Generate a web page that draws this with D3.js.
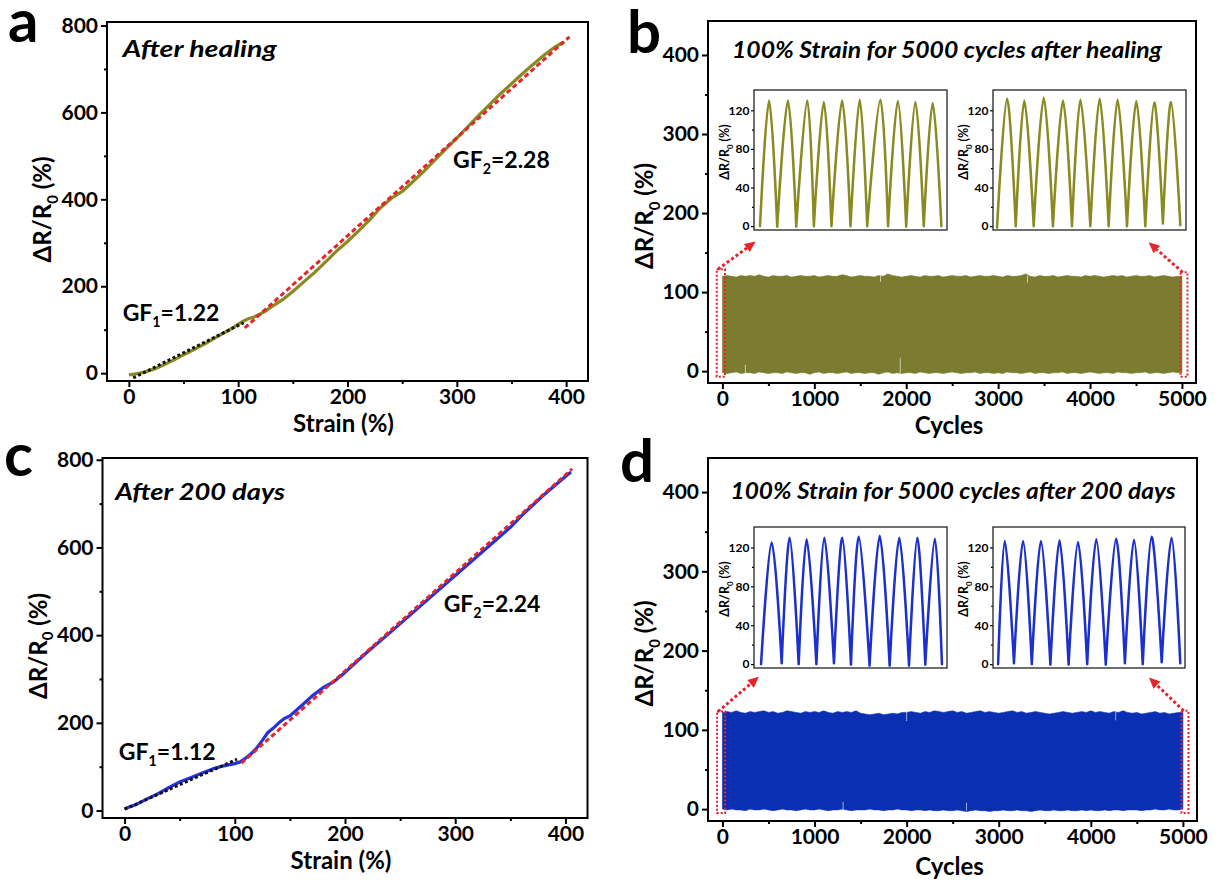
<!DOCTYPE html>
<html>
<head>
<meta charset="utf-8">
<script src="https://cdn.jsdelivr.net/npm/d3@7"></script>
<style>
  body { margin: 0; background: #fff; }
  svg text { font-family: Lato, "Open Sans", sans-serif; font-weight: 700; fill: #000; }
</style>
</head>
<body>
<svg id="fig" width="1220" height="886"></svg>
<script>
// ---------- strain response after healing (panel a) ----------
const healStrain = [0,5,10,15,20,25,30,40,50,60,70,80,90,95,100,105,110,115,120,125,130,140,150,160,170,180,190,200,210,220,230,240,250,260,270,280,290,300,310,320,330,340,350,360,370,380,390,395,398];
const healValue  = [-4,-2,0,3,7,11,17,29,42,55,68,83,97,104,113,120,126,130,136,143,152,168,188,210,232,256,281,303,327,352,380,402,418,441,465,491,516,541,567,593,618,643,666,689,711,732,751,758,762];
const healFit1Strain = [4, 105];   const healFit1Value = [-11, 116];
const healFit2Strain = [106, 403]; const healFit2Value = [104, 774];

// ---------- strain response after 200 days (panel c) ----------
const agedStrain = [0,10,20,30,40,50,60,70,80,90,100,105,110,115,120,125,130,135,140,145,150,160,170,180,190,200,220,240,260,280,300,320,340,350,360,380,400,405];
const agedValue  = [4,13,26,38,52,65,75,85,95,102,107,111,120,130,143,160,178,188,200,210,216,238,261,280,294,315,361,404,448,492,536,580,624,646,672,719,762,772];
const agedFit1Strain = [0, 102];   const agedFit1Value = [3, 117];
const agedFit2Strain = [106, 406]; const agedFit2Value = [108, 779];

// ---------- 5000-cycle envelopes (peak / valley every 50 cycles) ----------
const cycleGrid = d3.range(0, 5001, 50);
const healPeakEnv = [
  120,121,120,119,121,120,121,120,122,120, 119,121,120,120,121,119,120,121,120,120,
  121,119,120,121,120,120,122,121,119,120, 121,120,120,119,121,120,123,121,120,119,
  120,121,120,119,121,120,120,121,119,120, 121,120,120,121,119,120,121,120,120,121,
  120,119,121,120,120,121,123,120,119,121, 120,120,121,119,120,121,120,120,119,121,
  120,121,120,119,120,121,120,121,119,120, 121,120,120,121,119,120,121,120,119,120, 120];
const healTroughEnv = [
  -2,-3,-2,-1,-3,-2,-2,-3,-1,-2, -3,-2,-2,-3,-1,-2,-3,-2,-2,-4,
  -2,-1,-3,-2,-2,-3,-2,-1,-3,-2, -2,-3,-2,-2,-4,-2,-1,-3,-2,-3,
  -2,-2,-3,-1,-2,-3,-2,-2,-3,-2, -1,-2,-3,-2,-2,-1,-3,-2,-2,-3,
  -2,-3,-1,-2,-2,-3,-2,-1,-3,-2, -2,-3,-2,-2,-1,-3,-2,-2,-3,-2,
  -1,-2,-3,-2,-2,-3,-1,-2,-2,-3, -2,-2,-1,-3,-2,-2,-3,-2,-1,-2, -2];
const agedPeakEnv = [
  122,123,122,124,122,121,123,122,123,124, 122,123,121,122,124,123,122,121,123,122,
  123,122,124,122,121,123,122,123,122,124, 121,120,119,120,121,119,120,121,120,122,
  122,123,122,121,123,122,124,123,122,123, 124,122,123,121,122,123,124,122,123,122,
  121,122,123,124,122,123,121,122,123,122, 121,120,121,122,123,122,121,122,123,122,
  124,122,123,122,121,123,122,124,122,121, 122,120,121,122,123,121,122,120,121,122, 122];
const agedTroughEnv = [
  0,-1,0,-1,-1,-2,0,-1,-1,0, -1,-2,-1,0,-1,-1,-2,-1,0,-1,
  -1,0,-1,-2,-1,-1,0,-1,-2,-1, -1,-1,0,-1,-1,-2,-1,-1,0,-1,
  -1,-2,-1,-1,-2,-1,-2,-2,-1,-2, -2,-1,-2,-3,-2,-1,-2,-2,-3,-2,
  -2,-1,-2,-2,-1,-2,-2,-3,-2,-1, -2,-2,-1,-2,-2,-1,-2,-2,-1,-2,
  -1,-2,-2,-1,-2,-1,-1,-2,-1,-1, -1,-2,-1,-1,0,-1,-1,0,-1,-1, 0];
// isolated outlier cycles (light streaks at the band edges)
const healStreakCycle = [250, 1720, 1935, 3320];
const healStreakLow   = [-3, 113, -3, 112];
const healStreakHigh  = [8, 121, 17, 121];
const agedStreakCycle = [1310, 2000, 2650, 4270];
const agedStreakLow   = [-2, 111, -2, 112];
const agedStreakHigh  = [9, 123, 8, 123];

// ---------- zoomed cycles (first / last ten) ----------
const bFirstTroughT = [0,0.95,2.0,2.97,3.94,4.99,5.91,7.06,8.06,9.03,10.0];
const bFirstTroughV = [0,-0.5,-0.5,0,0,0,0,0,-0.5,0,0];
const bFirstPeakT   = [0.5,1.54,2.61,3.52,4.53,5.5,6.64,7.6,8.57,9.52];
const bFirstPeakV   = [130,130,130,128.5,130,131,131,129.6,128.5,127.5];
const bLastTroughT  = [0,1.02,2.0,3.05,4.09,5.09,6.09,7.09,8.09,9.05,10.0];
const bLastTroughV  = [-1.5,0,0,0,0,0,0,0,0,2.7,1];
const bLastPeakT    = [0.55,1.49,2.55,3.6,4.55,5.6,6.58,7.6,8.58,9.49];
const bLastPeakV    = [132,130,133,130,131,132,131,129.5,128,128.5];
const dFirstTroughT = [0,1.14,2.08,3.06,4.03,4.97,6.0,7.11,8.18,9.08,10.0];
const dFirstTroughV = [0,1,0,0,1,-0.5,-1.5,-1.5,-1.5,-0.5,0];
const dFirstPeakT   = [0.59,1.58,2.52,3.5,4.49,5.4,6.56,7.64,8.64,9.61];
const dFirstPeakV   = [125,130,128.5,130,130,131,132,130,130,129];
const dLastTroughT  = [0,0.87,1.85,2.87,3.87,4.89,5.91,6.96,7.94,8.98,10.0];
const dLastTroughV  = [0,1,0,-0.5,-0.5,0,-0.5,1,0,2,1];
const dLastPeakT    = [0.37,1.37,2.35,3.37,4.39,5.39,6.48,7.46,8.43,9.52];
const dLastPeakV    = [126.5,126.5,126.5,127.5,125.5,128.5,129,128,131,130];

// ---------- tick labels ----------
const strainTicks = [0, 100, 200, 300, 400];
const strainMinor = [50, 150, 250, 350];
const respTicks   = [0, 200, 400, 600, 800];
const respMinor   = [100, 300, 500, 700];
const cycleTicks  = [0, 1000, 2000, 3000, 4000, 5000];
const cycleMinor  = [500, 1500, 2500, 3500, 4500];
const cycRespTicks = [0, 100, 200, 300, 400];
const cycRespMinor = [50, 150, 250, 350];
const insetTicks  = [0, 40, 80, 120];
const insetMinor  = [20, 60, 100];

// ---------- colours ----------
const OLIVE_LINE = "#898a1f";
const OLIVE_BAND = "#7b7c2f";
const BLUE_LINE  = "#2334dc";
const BLUE_BAND  = "#0b2fb2";
const BLUE_INSET = "#1b30cc";
const RED = "#e5242b";

const svg = d3.select("#fig");
const FONT = "Lato, 'Open Sans', sans-serif";
const TICK_FS = 21, TITLE_FS = 24;

function styleAxis(sel, fs) {
  sel.select(".domain").remove();
  sel.attr("font-size", null).attr("font-family", null);
  sel.selectAll(".tick line").attr("stroke", "#000").attr("stroke-width", fs > 14 ? 2 : 1.2);
  sel.selectAll(".tick text").attr("font-size", fs).attr("font-family", FONT)
     .attr("font-weight", 700).attr("fill", "#000");
}

function makePanel(cfg) {
  const g = svg.append("g");
  const x = d3.scaleLinear().domain(cfg.xdom).range([cfg.l, cfg.r]);
  const y = d3.scaleLinear().domain(cfg.ydom).range([cfg.b, cfg.t]);
  const ax = g.append("g").attr("class", "axes");
  ax.append("g").attr("transform", `translate(0,${cfg.b})`)
    .call(d3.axisBottom(x).tickValues(cfg.xMinor).tickSize(3).tickFormat(""))
    .call(s => styleAxis(s, TICK_FS));
  ax.append("g").attr("transform", `translate(0,${cfg.b})`)
    .call(d3.axisBottom(x).tickValues(cfg.xMajor).tickSize(6).tickPadding(2).tickFormat(d3.format("d")))
    .call(s => styleAxis(s, TICK_FS));
  ax.append("g").attr("transform", `translate(${cfg.l},0)`)
    .call(d3.axisLeft(y).tickValues(cfg.yMinor).tickSize(3).tickFormat(""))
    .call(s => styleAxis(s, TICK_FS));
  ax.append("g").attr("transform", `translate(${cfg.l},0)`)
    .call(d3.axisLeft(y).tickValues(cfg.yMajor).tickSize(6).tickPadding(3).tickFormat(d3.format("d")))
    .call(s => styleAxis(s, TICK_FS));
  const plot = g.append("g");
  return { g, plot, x, y, cfg };
}

function drawFrame(p, width) {
  p.g.append("rect")
    .attr("x", p.cfg.l).attr("y", p.cfg.t)
    .attr("width", p.cfg.r - p.cfg.l).attr("height", p.cfg.b - p.cfg.t)
    .attr("fill", "none").attr("stroke", "#000").attr("stroke-width", width);
}

// y-axis title with subscript: ΔR/R0 (%)
function yTitle(parent, bx, cy, fs) {
  const t = parent.append("text")
    .attr("transform", `translate(${bx},${cy}) rotate(-90)`)
    .attr("text-anchor", "middle").attr("font-size", fs);
  t.append("tspan").text("ΔR/R");
  t.append("tspan").attr("font-size", fs * 0.62).attr("dy", fs * 0.28).text("0");
  t.append("tspan").attr("dy", -fs * 0.28).text(" (%)");
  return t;
}

function gfLabel(parent, px, py, idx, val, fs) {
  const t = parent.append("text").attr("x", px).attr("y", py).attr("font-size", fs);
  t.append("tspan").text("GF");
  t.append("tspan").attr("font-size", fs * 0.62).attr("dy", fs * 0.25).text(idx);
  t.append("tspan").attr("dy", -fs * 0.25).text("=" + val);
}

function panelLetter(ch, px, py) {
  svg.append("text").attr("x", px).attr("y", py).attr("font-size", 60)
    .attr("font-weight", 900).text(ch);
}

// ---------- strain sweep panels ----------
function strainPanel(cfg, strain, value, f1s, f1v, f2s, f2v, color, title, gf1, gf2) {
  const p = makePanel(Object.assign({
    xdom: [-20, 420], xMajor: strainTicks, xMinor: strainMinor,
    yMajor: respTicks, yMinor: respMinor
  }, cfg));
  const line = d3.line().x(d => p.x(d[0])).y(d => p.y(d[1]));
  p.plot.append("path").attr("d", line(d3.zip(strain, value)))
    .attr("fill", "none").attr("stroke", color).attr("stroke-width", 3.2)
    .attr("stroke-linejoin", "round");
  p.plot.append("path").attr("d", line(d3.zip(f1s, f1v)))
    .attr("fill", "none").attr("stroke", "#111").attr("stroke-width", 3)
    .attr("stroke-dasharray", "3,2.5");
  p.plot.append("path").attr("d", line(d3.zip(f2s, f2v)))
    .attr("fill", "none").attr("stroke", RED).attr("stroke-width", 3)
    .attr("stroke-dasharray", "5,3");
  drawFrame(p, 2);
  p.g.append("text").attr("x", p.x(title.s)).attr("y", p.y(title.v))
    .attr("font-size", 22).attr("font-style", "italic")
    .attr("textLength", title.w).attr("lengthAdjust", "spacingAndGlyphs").text(title.text);
  gfLabel(p.g, p.x(gf1.s), p.y(gf1.v), "1", gf1.text, 23);
  gfLabel(p.g, p.x(gf2.s), p.y(gf2.v), "2", gf2.text, 23);
  p.g.append("text").attr("x", (cfg.l + cfg.r) / 2 - 4).attr("y", cfg.b + cfg.xtOff)
    .attr("text-anchor", "middle").attr("font-size", TITLE_FS).text("Strain (%)");
  yTitle(p.g, cfg.l - 56, (cfg.t + cfg.b) / 2 + 8, TITLE_FS);
  return p;
}

strainPanel({ l: 107, r: 588, t: 22, b: 381, ydom: [-18, 808], xtOff: 51 },
  healStrain, healValue, healFit1Strain, healFit1Value, healFit2Strain, healFit2Value,
  OLIVE_LINE,
  { s: -5.5, v: 727, text: "After healing", w: 154 },
  { s: -5.7, v: 120, text: "1.22" }, { s: 296.5, v: 471, text: "2.28" });

strainPanel({ l: 102.5, r: 587.5, t: 458, b: 818, ydom: [-17, 804], xtOff: 51 },
  agedStrain, agedValue, agedFit1Strain, agedFit1Value, agedFit2Strain, agedFit2Value,
  BLUE_LINE,
  { s: -8.5, v: 708, text: "After 200 days", w: 170 },
  { s: -5.2, v: 115, text: "1.12" }, { s: 289.5, v: 453, text: "2.24" });

// ---------- cycling panels ----------
function insetPlot(parent, box, troughT, troughV, peakT, peakV, tdom, color) {
  const x = d3.scaleLinear().domain(tdom).range([box.l, box.r]);
  const y = d3.scaleLinear().domain([-4, 141]).range([box.b, box.t]);
  const g = parent.append("g");
  g.append("rect").attr("x", box.l).attr("y", box.t)
    .attr("width", box.r - box.l).attr("height", box.b - box.t).attr("fill", "#fff");
  g.append("g").attr("transform", `translate(${box.l},0)`)
    .call(d3.axisLeft(y).tickValues(insetMinor).tickSize(2).tickFormat(""))
    .call(s => styleAxis(s, 12));
  g.append("g").attr("transform", `translate(${box.l},0)`)
    .call(d3.axisLeft(y).tickValues(insetTicks).tickSize(3).tickPadding(1.5))
    .call(s => styleAxis(s, 12));
  const seg = d3.line().x(d => x(d[0])).y(d => y(d[1])).curve(d3.curveCardinal.tension(0));
  let dStr = "";
  for (let i = 0; i < peakT.length; i++) {
    dStr += seg([[troughT[i], troughV[i]], [peakT[i], peakV[i]], [troughT[i + 1], troughV[i + 1]]]);
  }
  g.append("path").attr("d", dStr).attr("fill", "none").attr("stroke", color)
    .attr("stroke-width", 2.5).attr("stroke-linejoin", "round").attr("stroke-linecap", "round");
  g.append("rect").attr("x", box.l).attr("y", box.t)
    .attr("width", box.r - box.l).attr("height", box.b - box.t)
    .attr("fill", "none").attr("stroke", "#222").attr("stroke-width", 1.3);
  yTitle(g, box.l - 25, box.t + 62, 12.5);
}

function arrow(parent, x0, y0, x1, y1) {
  const ang = Math.atan2(y1 - y0, x1 - x0);
  const len = 11, half = 5;
  const bx = x1 - len * Math.cos(ang), by = y1 - len * Math.sin(ang);
  parent.append("line").attr("x1", x0).attr("y1", y0).attr("x2", bx).attr("y2", by)
    .attr("stroke", RED).attr("stroke-width", 3).attr("stroke-dasharray", "3,2.5");
  const px = -Math.sin(ang) * half, py = Math.cos(ang) * half;
  parent.append("path")
    .attr("d", `M${x1},${y1}L${bx + px},${by + py}L${bx - px},${by - py}Z`)
    .attr("fill", RED);
}

function cyclePanel(cfg, peakEnv, troughEnv, streakC, streakLo, streakHi, bandColor, lineColor,
                    insets, marks, title) {
  const p = makePanel(Object.assign({
    xdom: [-157, 5153], ydom: [-15, 443],
    xMajor: cycleTicks, xMinor: cycleMinor, yMajor: cycRespTicks, yMinor: cycRespMinor
  }, cfg));
  const area = d3.area().x((d, i) => p.x(cycleGrid[i]))
    .y0((d, i) => p.y(troughEnv[i])).y1((d, i) => p.y(peakEnv[i]));
  p.plot.append("path").attr("d", area(cycleGrid)).attr("fill", bandColor)
    .attr("stroke", bandColor).attr("stroke-width", 0.6);
  streakC.forEach((c, i) => {
    p.plot.append("line").attr("x1", p.x(c)).attr("x2", p.x(c))
      .attr("y1", p.y(streakLo[i])).attr("y2", p.y(streakHi[i]))
      .attr("stroke", "#fff").attr("stroke-opacity", 0.6).attr("stroke-width", 1);
  });
  // dotted boxes around the first and last cycles
  marks.boxes.forEach(b => {
    p.plot.append("rect")
      .attr("x", p.x(b.c0)).attr("y", p.y(b.v1))
      .attr("width", p.x(b.c1) - p.x(b.c0)).attr("height", p.y(b.v0) - p.y(b.v1))
      .attr("fill", "none").attr("stroke", RED).attr("stroke-width", 2)
      .attr("stroke-dasharray", "2,2");
  });
  marks.arrows.forEach(a => arrow(p.plot, p.x(a.c0), p.y(a.v0), p.x(a.c1), p.y(a.v1)));
  insets.forEach(s => insetPlot(p.g, s.box, s.tt, s.tv, s.pt, s.pv, s.tdom, lineColor));
  drawFrame(p, 2);
  p.g.append("text").attr("x", p.x(title.c)).attr("y", p.y(title.v))
    .attr("text-anchor", "middle").attr("font-size", 22).attr("font-style", "italic")
    .attr("textLength", title.w).attr("lengthAdjust", "spacingAndGlyphs").text(title.text);
  p.g.append("text").attr("x", (cfg.l + cfg.r) / 2 - 3).attr("y", cfg.b + cfg.xtOff)
    .attr("text-anchor", "middle").attr("font-size", TITLE_FS).text("Cycles");
  yTitle(p.g, cfg.l - 55, (cfg.t + cfg.b) / 2 + 14, TITLE_FS);
  return p;
}

cyclePanel({ l: 708, r: 1196, t: 21, b: 383, xtOff: 51 },
  healPeakEnv, healTroughEnv, healStreakCycle, healStreakLow, healStreakHigh,
  OLIVE_BAND, OLIVE_LINE,
  [
    { box: { l: 754, r: 947, t: 90, b: 230 }, tt: bFirstTroughT, tv: bFirstTroughV,
      pt: bFirstPeakT, pv: bFirstPeakV, tdom: [-0.33, 10.31] },
    { box: { l: 993, r: 1186, t: 90, b: 230 }, tt: bLastTroughT, tv: bLastTroughV,
      pt: bLastPeakT, pv: bLastPeakV, tdom: [-0.22, 10.31] }
  ],
  {
    boxes: [{ c0: -62, c1: 28, v0: -7, v1: 129 }, { c0: 4985, c1: 5060, v0: -7, v1: 125 }],
    arrows: [{ c0: -49, v0: 129, c1: 362, v1: 164 }, { c0: 5008, v0: 125, c1: 4637, v1: 163 }]
  },
  { c: 2444, v: 396, text: "100% Strain for 5000 cycles after healing", w: 430 });

cyclePanel({ l: 708, r: 1197, t: 458, b: 821, xtOff: 54 },
  agedPeakEnv, agedTroughEnv, agedStreakCycle, agedStreakLow, agedStreakHigh,
  BLUE_BAND, BLUE_INSET,
  [
    { box: { l: 754, r: 947, t: 527, b: 668 }, tt: dFirstTroughT, tv: dFirstTroughV,
      pt: dFirstPeakT, pv: dFirstPeakV, tdom: [-0.39, 10.28] },
    { box: { l: 993, r: 1185, t: 527, b: 668 }, tt: dLastTroughT, tv: dLastTroughV,
      pt: dLastPeakT, pv: dLastPeakV, tdom: [-0.28, 10.26] }
  ],
  {
    boxes: [{ c0: -59, c1: 29, v0: -5, v1: 123 }, { c0: 4985, c1: 5060, v0: -5, v1: 124 }],
    arrows: [{ c0: -49, v0: 123, c1: 396, v1: 167 }, { c0: 5008, v0: 124, c1: 4632, v1: 166 }]
  },
  { c: 2504, v: 391, text: "100% Strain for 5000 cycles after 200 days", w: 445 });

panelLetter("a", 8, 42);
panelLetter("b", 627, 53);
panelLetter("c", 4, 476);
panelLetter("d", 620, 482);
</script>
</body>
</html>
